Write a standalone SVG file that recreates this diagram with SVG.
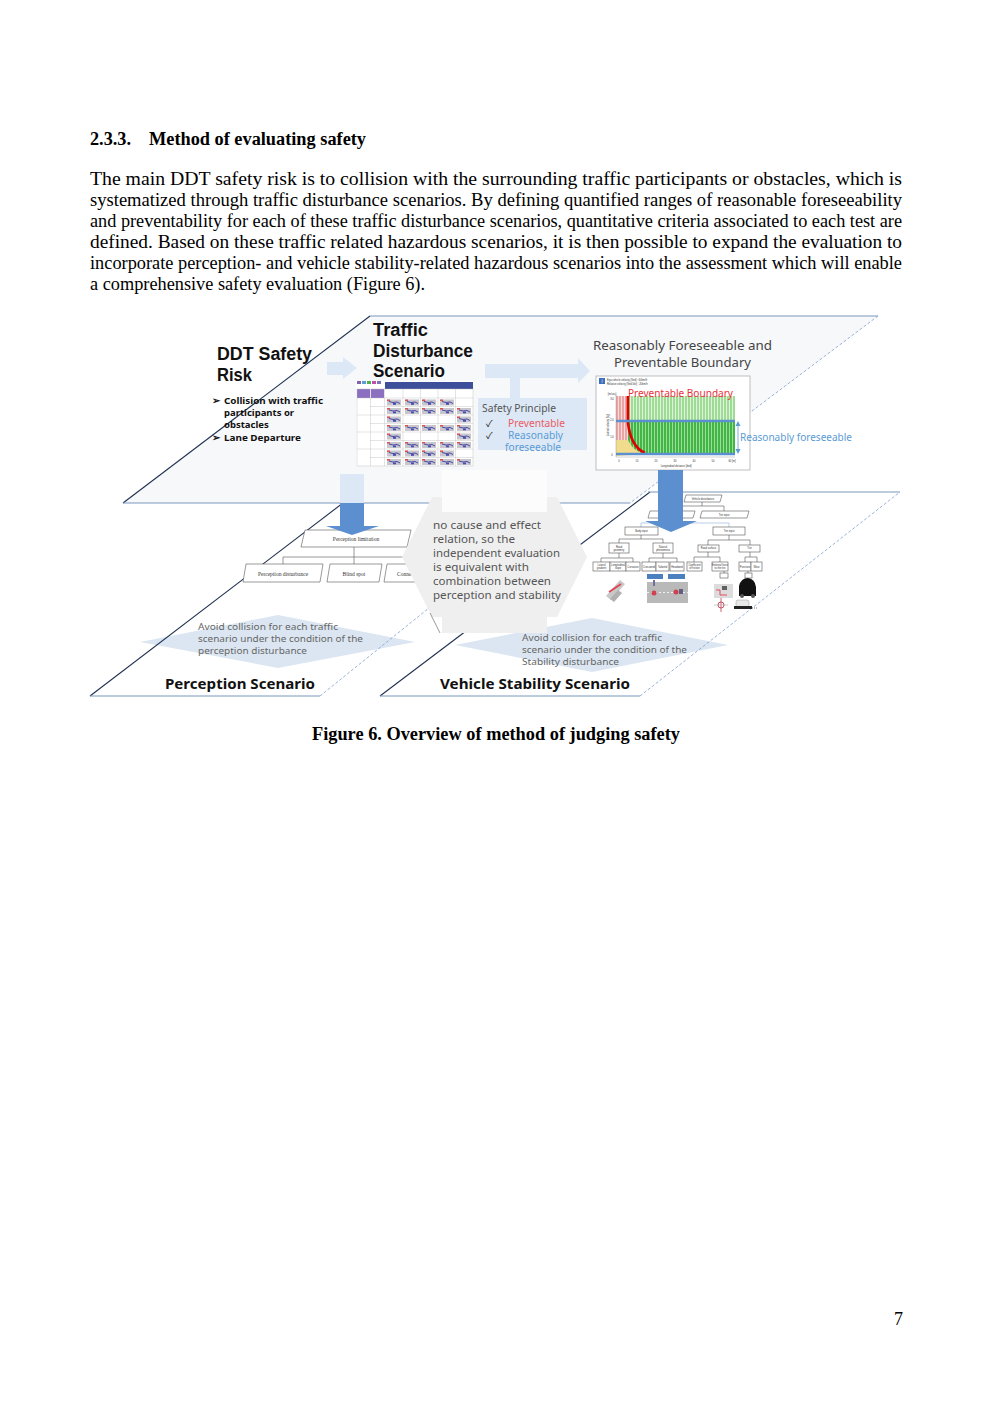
<svg xmlns="http://www.w3.org/2000/svg" width="992" height="1403" viewBox="0 0 992 1403">
<style>
.serif{font-family:"Liberation Serif","Times New Roman",serif;fill:#000}
.body{font-size:18px}
.hd{font-size:18px;font-weight:700}
.sans{font-family:"Noto Sans","Noto Sans CJK JP",sans-serif}
.ttl{font-family:"Liberation Sans",Arial,sans-serif;font-size:17.5px;font-weight:700;fill:#111}
.bul{font-size:9.5px;font-weight:700;fill:#111}
.gray{fill:#555}
.tiny{font-family:"Liberation Serif",serif;font-size:5.5px;fill:#333;text-anchor:middle}
.micro{font-family:"Liberation Sans",sans-serif;font-size:2.6px;fill:#333;text-anchor:middle}
.box{fill:#fff;stroke:#555;stroke-width:0.6}
.conn{fill:none;stroke:#555;stroke-width:0.6}
.edgeD{fill:none;stroke:#1f3050;stroke-width:1.1}
.edgeB{fill:none;stroke:#7c98bf;stroke-width:1.1}
.edgeS{fill:none;stroke:#7fa0d0;stroke-width:0.8;stroke-dasharray:3 2}
.lblue{fill:#dce8f5}
.dblue{fill:#5b8fcf}
</style>
<defs>
<pattern id="stG" width="3" height="10" patternUnits="userSpaceOnUse"><rect width="3" height="10" fill="#3fb646"/><rect width="1" height="10" fill="#9fdc98"/></pattern>
<pattern id="stL" width="3" height="10" patternUnits="userSpaceOnUse"><rect width="3" height="10" fill="#9edb94"/><rect width="1" height="10" fill="#dff3da"/></pattern>
<pattern id="stR" width="3" height="10" patternUnits="userSpaceOnUse"><rect width="3" height="10" fill="#e9a4a4"/><rect width="1" height="10" fill="#f8dcdc"/></pattern>
<g id="thumb">
<rect x="0" y="0" width="14" height="6" fill="#c6c6cc"/>
<rect x="0" y="0" width="3" height="1.5" fill="#e05050"/>
<polyline points="2,2 6,3 10,2.5 13,4" fill="none" stroke="#3a3aa0" stroke-width="0.9"/>
<rect x="6" y="3.5" width="3" height="1.8" fill="#4b4bb5"/>
</g>
</defs>

<rect width="992" height="1403" fill="#fff"/>

<!-- page text -->
<g id="heading" class="serif hd">
<text x="90" y="145" textLength="41" lengthAdjust="spacingAndGlyphs">2.3.3.</text>
<text x="149" y="145" textLength="217" lengthAdjust="spacingAndGlyphs">Method of evaluating safety</text>
</g>
<g id="paragraph" class="serif body">
<text x="90" y="185" textLength="812" lengthAdjust="spacingAndGlyphs">The main DDT safety risk is to collision with the surrounding traffic participants or obstacles, which is</text>
<text x="90" y="206" textLength="812" lengthAdjust="spacingAndGlyphs">systematized through traffic disturbance scenarios. By defining quantified ranges of reasonable foreseeability</text>
<text x="90" y="227" textLength="812" lengthAdjust="spacingAndGlyphs">and preventability for each of these traffic disturbance scenarios, quantitative criteria associated to each test are</text>
<text x="90" y="248" textLength="812" lengthAdjust="spacingAndGlyphs">defined. Based on these traffic related hazardous scenarios, it is then possible to expand the evaluation to</text>
<text x="90" y="269" textLength="812" lengthAdjust="spacingAndGlyphs">incorporate perception- and vehicle stability-related hazardous scenarios into the assessment which will enable</text>
<text x="90" y="290" textLength="335" lengthAdjust="spacingAndGlyphs">a comprehensive safety evaluation (Figure 6).</text>
</g>

<!-- figure: plane fills -->
<g id="plane-perception-fill">
<polygon points="90,696 360,490 575,490 320,696" fill="#fff"/>
</g>
<g id="plane-vehicle-fill">
<polygon points="380,696 650,492 900,492 640,696" fill="#fff"/>
</g>

<!-- diamonds -->
<g id="perception-goal">
<polygon points="140,642 278,615 415,642 278,668" fill="#dbe6f2"/>
</g>
<g id="vehicle-goal">
<polygon points="455,645 592,618 728,645 592,672" fill="#dbe6f2"/>
</g>

<!-- lower plane edges -->
<g id="plane-perception-edges">
<line class="edgeD" x1="90" y1="696" x2="360" y2="490"/>
<line class="edgeB" x1="90" y1="696" x2="320" y2="696"/>
<line class="edgeS" x1="320" y1="696" x2="575" y2="490"/>
</g>
<g id="plane-vehicle-edges">
<line class="edgeD" x1="380" y1="696" x2="650" y2="492"/>
<line class="edgeB" x1="380" y1="696" x2="640" y2="696"/>
<line class="edgeB" x1="648" y1="492" x2="900" y2="492"/>
<line class="edgeS" x1="640" y1="696" x2="900" y2="492"/>
</g>

<!-- top plane -->
<g id="plane-top">
<polygon points="370,316 878,316 630,503 123,503" fill="#f7f8fa"/>
<line class="edgeD" x1="123" y1="503" x2="370" y2="316"/>
<line class="edgeB" x1="370" y1="316" x2="878" y2="316"/>
<line class="edgeB" x1="123" y1="503" x2="630" y2="503"/>
<line class="edgeS" x1="878" y1="316" x2="630" y2="503"/>
</g>

<!-- DDT safety risk -->
<g id="ddt-risk" class="sans">
<text class="ttl" x="217" y="360" textLength="95" lengthAdjust="spacingAndGlyphs">DDT Safety</text>
<text class="ttl" x="217" y="381" textLength="35" lengthAdjust="spacingAndGlyphs">Risk</text>
<text class="bul" x="212" y="404">➢</text>
<text class="bul" x="224" y="404" textLength="99" lengthAdjust="spacingAndGlyphs">Collision with traffic</text>
<text class="bul" x="224" y="416">participants or</text>
<text class="bul" x="224" y="428">obstacles</text>
<text class="bul" x="212" y="441">➢</text>
<text class="bul" x="224" y="441" textLength="77" lengthAdjust="spacingAndGlyphs">Lane Departure</text>
</g>

<!-- traffic disturbance scenario -->
<g id="traffic-scenario" class="sans">
<text class="ttl" x="373" y="336" textLength="55" lengthAdjust="spacingAndGlyphs">Traffic</text>
<text class="ttl" x="373" y="357" textLength="100" lengthAdjust="spacingAndGlyphs">Disturbance</text>
<text class="ttl" x="373" y="377" textLength="72" lengthAdjust="spacingAndGlyphs">Scenario</text>
</g>
<g id="scenario-table">
<rect x="356" y="381" width="117" height="85" fill="#fff"/>
<rect x="357" y="381" width="4" height="3" fill="#8060b0"/>
<rect x="362" y="381" width="4" height="3" fill="#5aa0d0"/>
<rect x="367" y="381" width="4" height="3" fill="#50b050"/>
<rect x="372" y="381" width="4" height="3" fill="#c050b0"/>
<rect x="377" y="381" width="4" height="3" fill="#8070c0"/>
<rect x="385" y="382" width="88" height="7" fill="#3d4e9b"/>
<rect x="357" y="389" width="13" height="9" fill="#8b6fc0"/>
<rect x="371" y="389" width="13" height="9" fill="#8b6fc0"/>
<g fill="none" stroke="#bbb" stroke-width="0.4">
<rect x="357" y="389" width="116" height="77"/>
<line x1="370.5" y1="389" x2="370.5" y2="466"/>
<line x1="384.5" y1="389" x2="384.5" y2="466"/>
<line x1="403" y1="389" x2="403" y2="466"/>
<line x1="420.5" y1="389" x2="420.5" y2="466"/>
<line x1="438" y1="389" x2="438" y2="466"/>
<line x1="455.5" y1="389" x2="455.5" y2="466"/>
<line x1="357" y1="398" x2="473" y2="398"/>
<line x1="370" y1="406.5" x2="473" y2="406.5"/>
<line x1="357" y1="415" x2="473" y2="415"/>
<line x1="370" y1="423.5" x2="473" y2="423.5"/>
<line x1="357" y1="432" x2="473" y2="432"/>
<line x1="370" y1="440.5" x2="473" y2="440.5"/>
<line x1="357" y1="449" x2="473" y2="449"/>
<line x1="370" y1="457.5" x2="473" y2="457.5"/>
</g>
<use href="#thumb" x="387" y="399.5"/><use href="#thumb" x="405" y="399.5"/><use href="#thumb" x="422" y="399.5"/><use href="#thumb" x="440" y="399.5"/>
<use href="#thumb" x="387" y="408"/><use href="#thumb" x="405" y="408"/><use href="#thumb" x="422" y="408"/><use href="#thumb" x="440" y="408"/><use href="#thumb" x="457" y="408"/>
<use href="#thumb" x="387" y="416.5"/><use href="#thumb" x="457" y="416.5"/>
<use href="#thumb" x="387" y="425"/><use href="#thumb" x="405" y="425"/><use href="#thumb" x="422" y="425"/><use href="#thumb" x="440" y="425"/><use href="#thumb" x="457" y="425"/>
<use href="#thumb" x="387" y="433.5"/><use href="#thumb" x="457" y="433.5"/>
<use href="#thumb" x="387" y="442"/><use href="#thumb" x="405" y="442"/><use href="#thumb" x="422" y="442"/><use href="#thumb" x="440" y="442"/><use href="#thumb" x="457" y="442"/>
<use href="#thumb" x="387" y="450.5"/><use href="#thumb" x="405" y="450.5"/><use href="#thumb" x="422" y="450.5"/><use href="#thumb" x="440" y="450.5"/>
<use href="#thumb" x="387" y="459"/><use href="#thumb" x="405" y="459"/><use href="#thumb" x="422" y="459"/><use href="#thumb" x="440" y="459"/><use href="#thumb" x="457" y="459"/>
</g>

<!-- safety principle -->
<g id="safety-principle" class="sans">
<rect x="478" y="398" width="109" height="52" class="lblue"/>
<text x="482" y="412" font-size="10" class="gray" textLength="74" lengthAdjust="spacingAndGlyphs">Safety Principle</text>
<text x="486" y="427" font-size="9.5" fill="#222">✓</text>
<text x="508" y="427" font-size="10" fill="#ec5b64" textLength="57" lengthAdjust="spacingAndGlyphs">Preventable</text>
<text x="486" y="439" font-size="9.5" fill="#222">✓</text>
<text x="508" y="439" font-size="10" fill="#5b9bd5" textLength="55" lengthAdjust="spacingAndGlyphs">Reasonably</text>
<text x="505" y="451" font-size="10" fill="#5b9bd5" textLength="56" lengthAdjust="spacingAndGlyphs">foreseeable</text>
</g>

<!-- boundary chart -->
<g id="boundary" class="sans">
<text x="593" y="350" font-size="12.5" fill="#444" textLength="179" lengthAdjust="spacingAndGlyphs">Reasonably Foreseeable and</text>
<text x="614" y="367" font-size="12.5" fill="#444" textLength="137" lengthAdjust="spacingAndGlyphs">Preventable Boundary</text>
<rect x="596" y="376" width="154" height="94" fill="#fff" stroke="#b0b0b0" stroke-width="0.8"/>
<rect x="599" y="378" width="6" height="6" fill="#3b6fc0"/>
<text x="602" y="383" font-size="4.5" fill="#fff" text-anchor="middle">i</text>
<text x="607" y="381" class="micro" style="text-anchor:start">Ego vehicle velocity [Ved]   : 60km/h</text>
<text x="607" y="385" class="micro" style="text-anchor:start">Relative velocity [Ved-Vot]  : 20km/h</text>
<rect x="628" y="396" width="107" height="25" fill="url(#stL)"/>
<rect x="628" y="421" width="107" height="33" fill="url(#stG)"/>
<rect x="616" y="396" width="12" height="58" fill="url(#stR)"/>
<path d="M616,440 L628,440 C632,448 637,452 645,454 L616,456 Z" fill="#f0dc8c"/>
<path d="M628,396 L628,423 C630,440 636,449 645,453" fill="none" stroke="#e00000" stroke-width="2.6"/>
<line x1="616" y1="421" x2="735" y2="421" stroke="#5b8fcf" stroke-width="2.4"/>
<line x1="616" y1="454" x2="735" y2="454" stroke="#5b8fcf" stroke-width="2.4"/>
<line x1="616" y1="394" x2="616" y2="457" stroke="#888" stroke-width="0.4"/>
<line x1="616" y1="457" x2="735" y2="457" stroke="#888" stroke-width="0.4"/>
<text x="628" y="397" font-size="11" fill="#e8303a" textLength="105" lengthAdjust="spacingAndGlyphs">Preventable Boundary</text>
<text x="612" y="395" class="micro">[m/sec]</text>
<text x="612" y="400" class="micro">3.0</text>
<text x="612" y="421" class="micro">2.0</text>
<text x="612" y="438" class="micro">1.0</text>
<text x="612" y="456" class="micro">0</text>
<text transform="translate(609,425) rotate(-90)" class="micro">Lateral velocity [Vy]</text>
<text x="619" y="462" class="micro">0</text>
<text x="637" y="462" class="micro">10</text>
<text x="656" y="462" class="micro">20</text>
<text x="675" y="462" class="micro">30</text>
<text x="694" y="462" class="micro">40</text>
<text x="713" y="462" class="micro">50</text>
<text x="732" y="462" class="micro">60 [m]</text>
<text x="676" y="467" class="micro">Longitudinal distance [dxd]</text>
<line x1="738" y1="425" x2="738" y2="450" stroke="#5b9bd5" stroke-width="0.8"/>
<polygon points="738,421 735.5,426 740.5,426" fill="#5b9bd5"/>
<polygon points="738,454 735.5,449 740.5,449" fill="#5b9bd5"/>
<text x="740" y="441" font-size="10" fill="#5b9bd5" textLength="112" lengthAdjust="spacingAndGlyphs">Reasonably foreseeable</text>
</g>

<!-- perception limitation tree -->
<g id="perception-tree">
<polygon class="box" points="305,530 411,530 407,547 301,547"/>
<text class="tiny" x="356" y="541">Perception limitation</text>
<polyline class="conn" points="354,547 354,557"/>
<polyline class="conn" points="283,564 283,557 420,557"/>
<polyline class="conn" points="354,557 354,564"/>
<polyline class="conn" points="410,557 410,564"/>
<polygon class="box" points="246,564 323,564 320,582 243,582"/>
<text class="tiny" x="283" y="576">Perception disturbance</text>
<polygon class="box" points="330,564 382,564 379,582 327,582"/>
<text class="tiny" x="354" y="576">Blind spot</text>
<polygon class="box" points="387,564 440,564 437,582 384,582"/>
<text class="tiny" x="397" y="576" style="text-anchor:start">Connected</text>
</g>

<!-- vehicle disturbance tree -->
<g id="vehicle-tree">
<g class="conn">
<polyline points="702,502 702,506"/>
<polyline points="670,511 670,506 724,506 724,511"/>
<polyline points="670,518 670,523"/>
<polyline points="641,527 641,523 729,523 729,527" stroke="#8fb0dc"/>
<polyline points="641,535 641,539"/>
<polyline points="619,543 619,539 663,539 663,543"/>
<polyline points="729,535 729,540"/>
<polyline points="708,545 708,540 750,540 750,545"/>
<polyline points="601,562 601,558 633,558 633,562"/>
<polyline points="619,553 619,558"/>
<polyline points="649,562 649,558 677,558 677,562"/>
<polyline points="663,553 663,558"/>
<polyline points="694,562 694,557 720,557 720,562"/>
<polyline points="708,552 708,557"/>
<polyline points="745,562 745,557 757,557 757,562"/>
<polyline points="750,552 750,557"/>
<polyline points="724,571 724,573"/>
<polyline points="748,571 748,573"/>
</g>
<polygon class="box" points="686,495 722,495 720,502 684,502"/>
<text class="micro" x="703" y="499.8">Vehicle disturbance</text>
<polygon class="box" points="650,511 695,511 693,518 648,518"/>
<text class="micro" x="671" y="515.8">Body input</text>
<polygon class="box" points="702,511 749,511 747,518 700,518"/>
<text class="micro" x="724" y="515.8">Tire input</text>
<rect class="box" x="625" y="527" width="33" height="8"/>
<text class="micro" x="641.5" y="532">Body input</text>
<rect class="box" x="713" y="527" width="32" height="8"/>
<text class="micro" x="729" y="532">Tire input</text>
<rect class="box" x="609" y="543" width="20" height="10"/>
<text class="micro" x="619" y="547.5">Road</text><text class="micro" x="619" y="550.5">geometry</text>
<rect class="box" x="653" y="543" width="20" height="10"/>
<text class="micro" x="663" y="547.5">Natural</text><text class="micro" x="663" y="550.5">phenomena</text>
<rect class="box" x="698" y="545" width="21" height="7"/>
<text class="micro" x="708.5" y="549.3">Road surface</text>
<rect class="box" x="739" y="545" width="21" height="7"/>
<text class="micro" x="749.5" y="549.3">Tire</text>
<rect class="box" x="593" y="562" width="17" height="9"/>
<text class="micro" x="601.5" y="566">Lateral</text><text class="micro" x="601.5" y="569">gradient</text>
<rect class="box" x="610" y="562" width="16" height="9"/>
<text class="micro" x="618" y="566">Longitudinal</text><text class="micro" x="618" y="569">slope</text>
<rect class="box" x="626" y="562" width="14" height="9"/>
<text class="micro" x="633" y="567.5">Curvature</text>
<rect class="box" x="642" y="562" width="14" height="9"/>
<text class="micro" x="649" y="567.5">Crosswind</text>
<rect class="box" x="656" y="562" width="13" height="9"/>
<text class="micro" x="662.5" y="567.5">Tailwind</text>
<rect class="box" x="670" y="562" width="14" height="9"/>
<text class="micro" x="677" y="567.5">Headwind</text>
<rect class="box" x="687" y="562" width="15" height="9"/>
<text class="micro" x="694.5" y="566">Coefficient</text><text class="micro" x="694.5" y="569">of friction</text>
<rect class="box" x="712" y="562" width="16" height="9"/>
<text class="micro" x="720" y="566">External force</text><text class="micro" x="720" y="569">to the tire</text>
<rect class="box" x="739" y="562" width="12" height="9"/>
<text class="micro" x="745" y="567.5">Puncture</text>
<rect class="box" x="751" y="562" width="11" height="9"/>
<text class="micro" x="756.5" y="567.5">Wear</text>
<rect x="647" y="574" width="16" height="5" fill="#4a7fc0"/>
<rect x="668" y="574" width="17" height="5" fill="#4a7fc0"/>
<rect class="box" x="720" y="573" width="8" height="5"/>
<rect class="box" x="745" y="573" width="7" height="5"/>
<!-- pictograms -->
<polygon points="606,596 620,580 625,584 611,600" fill="#c8c8c8"/>
<polygon points="610,599 618,590 622,593 614,602" fill="#b0b0b0"/>
<line x1="609" y1="592" x2="621" y2="584" stroke="#e04050" stroke-width="1.6"/>
<rect x="647" y="582" width="41" height="21" fill="#b9b9b9"/>
<line x1="647" y1="592.5" x2="688" y2="592.5" stroke="#fff" stroke-width="0.8" stroke-dasharray="2 2"/>
<circle cx="654" cy="593" r="2.5" fill="#d04050"/>
<rect x="653" y="580" width="2" height="6" fill="#7070a0"/>
<circle cx="676" cy="592" r="2.5" fill="#d04050"/>
<rect x="679" y="589" width="4" height="5" fill="#606080"/>
<rect x="714" y="584" width="19" height="14" fill="#dcdcdc"/>
<polyline points="716,590 720,590 720,595 727,595" fill="none" stroke="#e04050" stroke-width="0.9"/>
<rect x="722" y="586" width="5" height="4" fill="#606060"/>
<path d="M739,596 L739,586 Q741,578 748,578 Q755,579 756,587 L756,596 Z" fill="#111"/>
<circle cx="742" cy="596" r="2" fill="#555"/>
<circle cx="753" cy="596" r="2" fill="#555"/>
<circle cx="721" cy="605" r="3" fill="none" stroke="#c04050" stroke-width="0.9"/>
<line x1="721" y1="598" x2="721" y2="612" stroke="#c04050" stroke-width="0.8"/>
<line x1="714" y1="605" x2="728" y2="605" stroke="#999" stroke-width="0.5"/>
<rect x="736" y="600" width="13" height="7" rx="2" fill="#e8e8e8" stroke="#999" stroke-width="0.5"/>
<rect x="734" y="606" width="18" height="3" fill="#222"/>
<line x1="752" y1="608" x2="757" y2="608" stroke="#222" stroke-width="0.6" stroke-dasharray="1 1"/>
</g>

<!-- central bubble -->
<g id="independence-note" class="sans">
<polygon points="402,557 432,497 442,497 442,483 547,483 547,497 557,497 587,557 557,617 547,617 547,633 442,633 442,617 432,617" fill="#efefef"/>
<rect x="442" y="470" width="105" height="42" fill="#fcfcfc"/>
<line x1="430" y1="613" x2="440" y2="633" stroke="#555" stroke-width="0.6"/>
<g font-size="10.5" fill="#555">
<text x="433" y="529" textLength="108" lengthAdjust="spacingAndGlyphs">no cause and effect</text>
<text x="433" y="543" textLength="82" lengthAdjust="spacingAndGlyphs">relation, so the</text>
<text x="433" y="557" textLength="127" lengthAdjust="spacingAndGlyphs">independent evaluation</text>
<text x="433" y="571" textLength="96" lengthAdjust="spacingAndGlyphs">is equivalent with</text>
<text x="433" y="585" textLength="118" lengthAdjust="spacingAndGlyphs">combination between</text>
<text x="433" y="599" textLength="128" lengthAdjust="spacingAndGlyphs">perception and stability</text>
</g>
</g>

<!-- connectors: arrows -->
<g id="connectors">
<polygon class="lblue" points="327,362 343,362 343,357 357,368 343,379 343,375 327,375"/>
<polygon class="lblue" points="485,364 578,364 578,358 590,371 578,383 578,378 520,378 520,398 510,398 510,378 485,378"/>
<rect class="lblue" x="340" y="474" width="24" height="29"/>
<polygon class="dblue" points="340,503 364,503 364,526 379,526 352,535 326,526 340,526"/>
<polygon class="dblue" points="658,470 683,470 683,521 697,521 671,532 645,521 658,521"/>
</g>

<!-- lower plane titles and goals text -->
<g id="perception-scenario" class="sans">
<g font-size="9" fill="#666">
<text x="198" y="630" textLength="140" lengthAdjust="spacingAndGlyphs">Avoid collision for each traffic</text>
<text x="198" y="642" textLength="165" lengthAdjust="spacingAndGlyphs">scenario under the condition of the</text>
<text x="198" y="654" textLength="109" lengthAdjust="spacingAndGlyphs">perception disturbance</text>
</g>
<text x="165" y="689" font-size="14.5" font-weight="700" fill="#111" textLength="150" lengthAdjust="spacingAndGlyphs">Perception Scenario</text>
</g>
<g id="vehicle-scenario" class="sans">
<g font-size="9" fill="#666">
<text x="522" y="641" textLength="140" lengthAdjust="spacingAndGlyphs">Avoid collision for each traffic</text>
<text x="522" y="653" textLength="165" lengthAdjust="spacingAndGlyphs">scenario under the condition of the</text>
<text x="522" y="665" textLength="97" lengthAdjust="spacingAndGlyphs">Stability disturbance</text>
</g>
<text x="440" y="689" font-size="14.5" font-weight="700" fill="#111" textLength="190" lengthAdjust="spacingAndGlyphs">Vehicle Stability Scenario</text>
</g>

<g id="caption" class="serif hd">
<text x="312" y="740" textLength="368" lengthAdjust="spacingAndGlyphs">Figure 6. Overview of method of judging safety</text>
</g>
<g id="page-number" class="serif body">
<text x="894" y="1325">7</text>
</g>
</svg>
